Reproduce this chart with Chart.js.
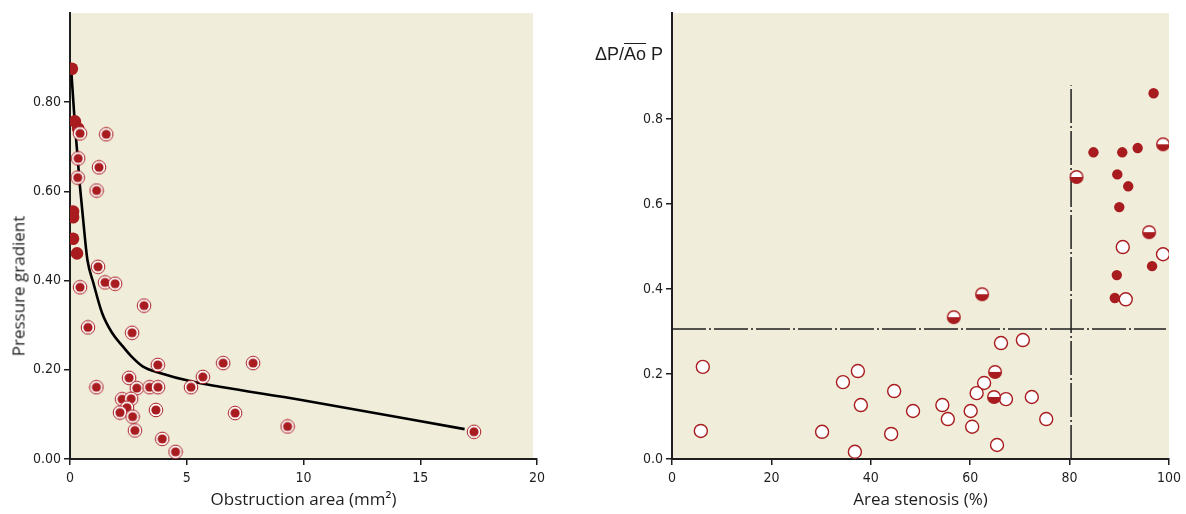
<!DOCTYPE html>
<html><head><meta charset="utf-8">
<script src="https://cdn.jsdelivr.net/npm/chart.js@4.4.1/dist/chart.umd.min.js"></script>
<style>
html,body{margin:0;padding:0;background:#fff;}
#wrap{position:relative;width:1186px;height:514px;overflow:hidden;}
canvas{position:absolute;top:0;}
#c1{left:0;} #c2{left:593px;}
.lbl{position:absolute;color:#1e1e1e;white-space:nowrap;}
</style></head><body>
<div id="wrap">
<canvas id="c1" width="593" height="514"></canvas>
<canvas id="c2" width="593" height="514"></canvas>
<div class="lbl" id="ylab1" style="font-family:'Open Sans','Noto Sans',sans-serif;font-size:17px;left:18px;top:286px;transform:translate(-50%,-50%) rotate(-90deg);">Pressure gradient</div>
<div class="lbl" id="ylab2" style="font-family:'Liberation Sans',Arial,sans-serif;font-size:18px;left:595px;top:44px;">ΔP/<span style="text-decoration:overline">Ao</span> P</div>
</div>
<script>
// ---------- Left panel data ----------
const leftXTicks = [0, 5, 10, 15, 20];
const leftYTicks = [0.00, 0.20, 0.40, 0.60, 0.80];
// large solid points
const solidX = [0.08, 0.21, 0.35, 0.13, 0.13, 0.13, 0.30];
const solidY = [0.875, 0.757, 0.741, 0.555, 0.542, 0.494, 0.461];
// ringed points
const ringX = [0.43, 1.55, 0.35, 1.24, 0.33, 1.14, 1.20, 0.43, 1.50, 1.93, 3.17, 0.77, 2.66, 3.76, 6.56, 7.84,
  2.53, 5.69, 1.13, 2.86, 3.41, 3.77, 5.18, 2.23, 2.62, 2.44, 2.14, 2.68, 3.68, 7.07, 2.78, 3.95, 4.52, 9.32, 17.3];
const ringY = [0.730, 0.728, 0.674, 0.654, 0.631, 0.602, 0.431, 0.385, 0.396, 0.393, 0.344, 0.295, 0.283, 0.211, 0.215, 0.215,
  0.182, 0.184, 0.161, 0.159, 0.161, 0.161, 0.161, 0.134, 0.135, 0.115, 0.104, 0.095, 0.110, 0.103, 0.064, 0.045, 0.016, 0.073, 0.061];
// fitted curve
const curveX = [0.05, 0.2, 0.43, 0.64, 0.75, 1.0, 1.37, 1.8, 2.27, 2.65, 3.13, 3.85, 5.27, 6.42, 9.85, 16.9];
const curveY = [0.875, 0.757, 0.609, 0.495, 0.445, 0.395, 0.328, 0.283, 0.252, 0.229, 0.207, 0.193, 0.173, 0.162, 0.133, 0.067];

// ---------- Right panel data ----------
const rightXTicks = [0, 20, 40, 60, 80, 100];
const rightYTicks = [0.0, 0.2, 0.4, 0.6, 0.8];
const filledX = [96.9, 84.8, 90.6, 93.7, 89.6, 91.8, 90.0, 96.6, 89.5, 89.1];
const filledY = [0.861, 0.722, 0.722, 0.732, 0.670, 0.642, 0.593, 0.454, 0.433, 0.379];
const halfX = [98.8, 81.4, 96.0, 62.4, 56.7, 65.0, 64.8];
const halfY = [0.741, 0.664, 0.534, 0.388, 0.334, 0.205, 0.146];
const openX = [90.7, 98.8, 91.3, 66.2, 70.6, 62.8, 61.3, 67.2, 72.4, 48.5, 54.4, 60.1, 55.5, 75.3, 60.4, 65.4,
  6.2, 5.8, 30.2, 34.4, 37.4, 38.0, 36.8, 44.7, 44.1];
const openY = [0.499, 0.482, 0.376, 0.273, 0.280, 0.179, 0.155, 0.141, 0.146, 0.113, 0.127, 0.113, 0.094, 0.094, 0.076, 0.033,
  0.217, 0.066, 0.064, 0.181, 0.207, 0.127, 0.017, 0.160, 0.059];
const cutoffY = 0.306;   // horizontal reference
const cutoffX = 80.3;    // vertical reference
const hLineEnd = 99.4;
const vLineTop = 0.88;

// ---------- styling helpers ----------
const RED = '#a81c1f';
const BG = '#f1eddb';
const INK = '#1e1e1e';
const tickFont = {family: "'Liberation Sans Narrow','DejaVu Sans Condensed','Roboto',sans-serif", size: 14};
const titleFont = {family: "'Open Sans','Noto Sans',sans-serif", size: 17};

function ringImg() {
  const c = document.createElement('canvas'); c.width = 16; c.height = 16;
  const g = c.getContext('2d');
  g.beginPath(); g.arc(8, 8, 6.8, 0, Math.PI * 2); g.fillStyle = '#fff'; g.fill();
  g.lineWidth = 1; g.strokeStyle = RED; g.stroke();
  g.beginPath(); g.arc(8, 8, 4.6, 0, Math.PI * 2); g.fillStyle = RED; g.fill();
  return c;
}
function halfImg() {
  const c = document.createElement('canvas'); c.width = 16; c.height = 16;
  const g = c.getContext('2d');
  g.beginPath(); g.arc(8, 8, 6.3, 0, Math.PI * 2); g.fillStyle = '#fff'; g.fill();
  g.beginPath(); g.arc(8, 8, 6.3, 0, Math.PI); g.closePath(); g.fillStyle = RED; g.fill();
  g.beginPath(); g.arc(8, 8, 6.3, 0, Math.PI * 2); g.lineWidth = 1.4; g.strokeStyle = RED; g.stroke();
  return c;
}
const zip = (xs, ys) => xs.map((x, i) => ({x, y: ys[i]}));

const bgPlugin = {
  id: 'bg',
  beforeDraw(chart, args, opts) {
    const a = chart.chartArea, ctx = chart.ctx;
    ctx.save(); ctx.fillStyle = BG;
    ctx.fillRect(a.left, a.top, a.right - a.left - (opts.trimRight || 0), a.bottom - a.top);
    ctx.restore();
  }
};

function axis(min, max, ticks, decimals, fitKey, fitVal, title) {
  const o = {
    type: 'linear', min, max,
    afterBuildTicks: s => { s.ticks = ticks.map(v => ({value: v})); },
    ticks: {font: tickFont, color: INK, padding: fitKey === 'height' ? 5 : 3, maxRotation: 0,
      callback: v => decimals === 0 ? String(v) : Number(v).toFixed(decimals)},
    grid: {display: true, drawOnChartArea: false, drawTicks: true, tickLength: 6, color: INK, lineWidth: 1.5},
    border: {display: true, color: INK, width: 2},
    afterFit: s => { s[fitKey] = fitVal; }
  };
  if (title) o.title = {display: true, text: title, font: titleFont, color: INK, padding: {top: 1}};
  return o;
}

Chart.defaults.animation = false;

new Chart(document.getElementById('c1'), {
  type: 'scatter',
  data: {datasets: [
    {data: zip(ringX, ringY), pointStyle: ringImg(), pointRadius: 7, order: 1},
    {data: zip(solidX, solidY), backgroundColor: RED, borderColor: RED, pointRadius: 6.3, borderWidth: 0, order: 2},
    {type: 'line', data: zip(curveX, curveY), borderColor: '#000', borderWidth: 2.6, pointRadius: 0,
      cubicInterpolationMode: 'monotone', fill: false, order: 3}
  ]},
  options: {
    responsive: false, devicePixelRatio: 1,
    layout: {padding: {top: 13, right: 56, left: 0, bottom: 0}},
    plugins: {legend: {display: false}, tooltip: {enabled: false}, bg: {trimRight: 4}},
    scales: {
      x: axis(0, 20, leftXTicks, 0, 'height', 55, 'Obstruction area (mm²)'),
      y: axis(0, 1.0, leftYTicks, 2, 'width', 70)
    }
  },
  plugins: [bgPlugin]
});

new Chart(document.getElementById('c2'), {
  type: 'scatter',
  data: {datasets: [
    {data: zip(filledX, filledY), backgroundColor: RED, borderColor: RED, pointRadius: 5.2, borderWidth: 0, order: 1},
    {data: zip(halfX, halfY), pointStyle: halfImg(), pointRadius: 7, order: 2},
    {data: zip(openX, openY), backgroundColor: '#fff', borderColor: RED, pointRadius: 6.5, borderWidth: 1.4, order: 3},
    {type: 'line', data: [{x: 0, y: cutoffY}, {x: hLineEnd, y: cutoffY}], borderColor: INK, borderWidth: 1.5,
      borderDash: [34, 3, 2, 3], pointRadius: 0, order: 4},
    {type: 'line', data: [{x: cutoffX, y: 0}, {x: cutoffX, y: vLineTop}], borderColor: INK, borderWidth: 1.5,
      borderDash: [34, 3, 2, 3], pointRadius: 0, order: 5}
  ]},
  options: {
    responsive: false, devicePixelRatio: 1,
    layout: {padding: {top: 13, right: 17, left: 0, bottom: 0}},
    plugins: {legend: {display: false}, tooltip: {enabled: false}},
    scales: {
      x: axis(0, 100, rightXTicks, 0, 'height', 55, 'Area stenosis (%)'),
      y: axis(0, 1.05, rightYTicks, 1, 'width', 79)
    }
  },
  plugins: [bgPlugin]
});
</script>
</body></html>
